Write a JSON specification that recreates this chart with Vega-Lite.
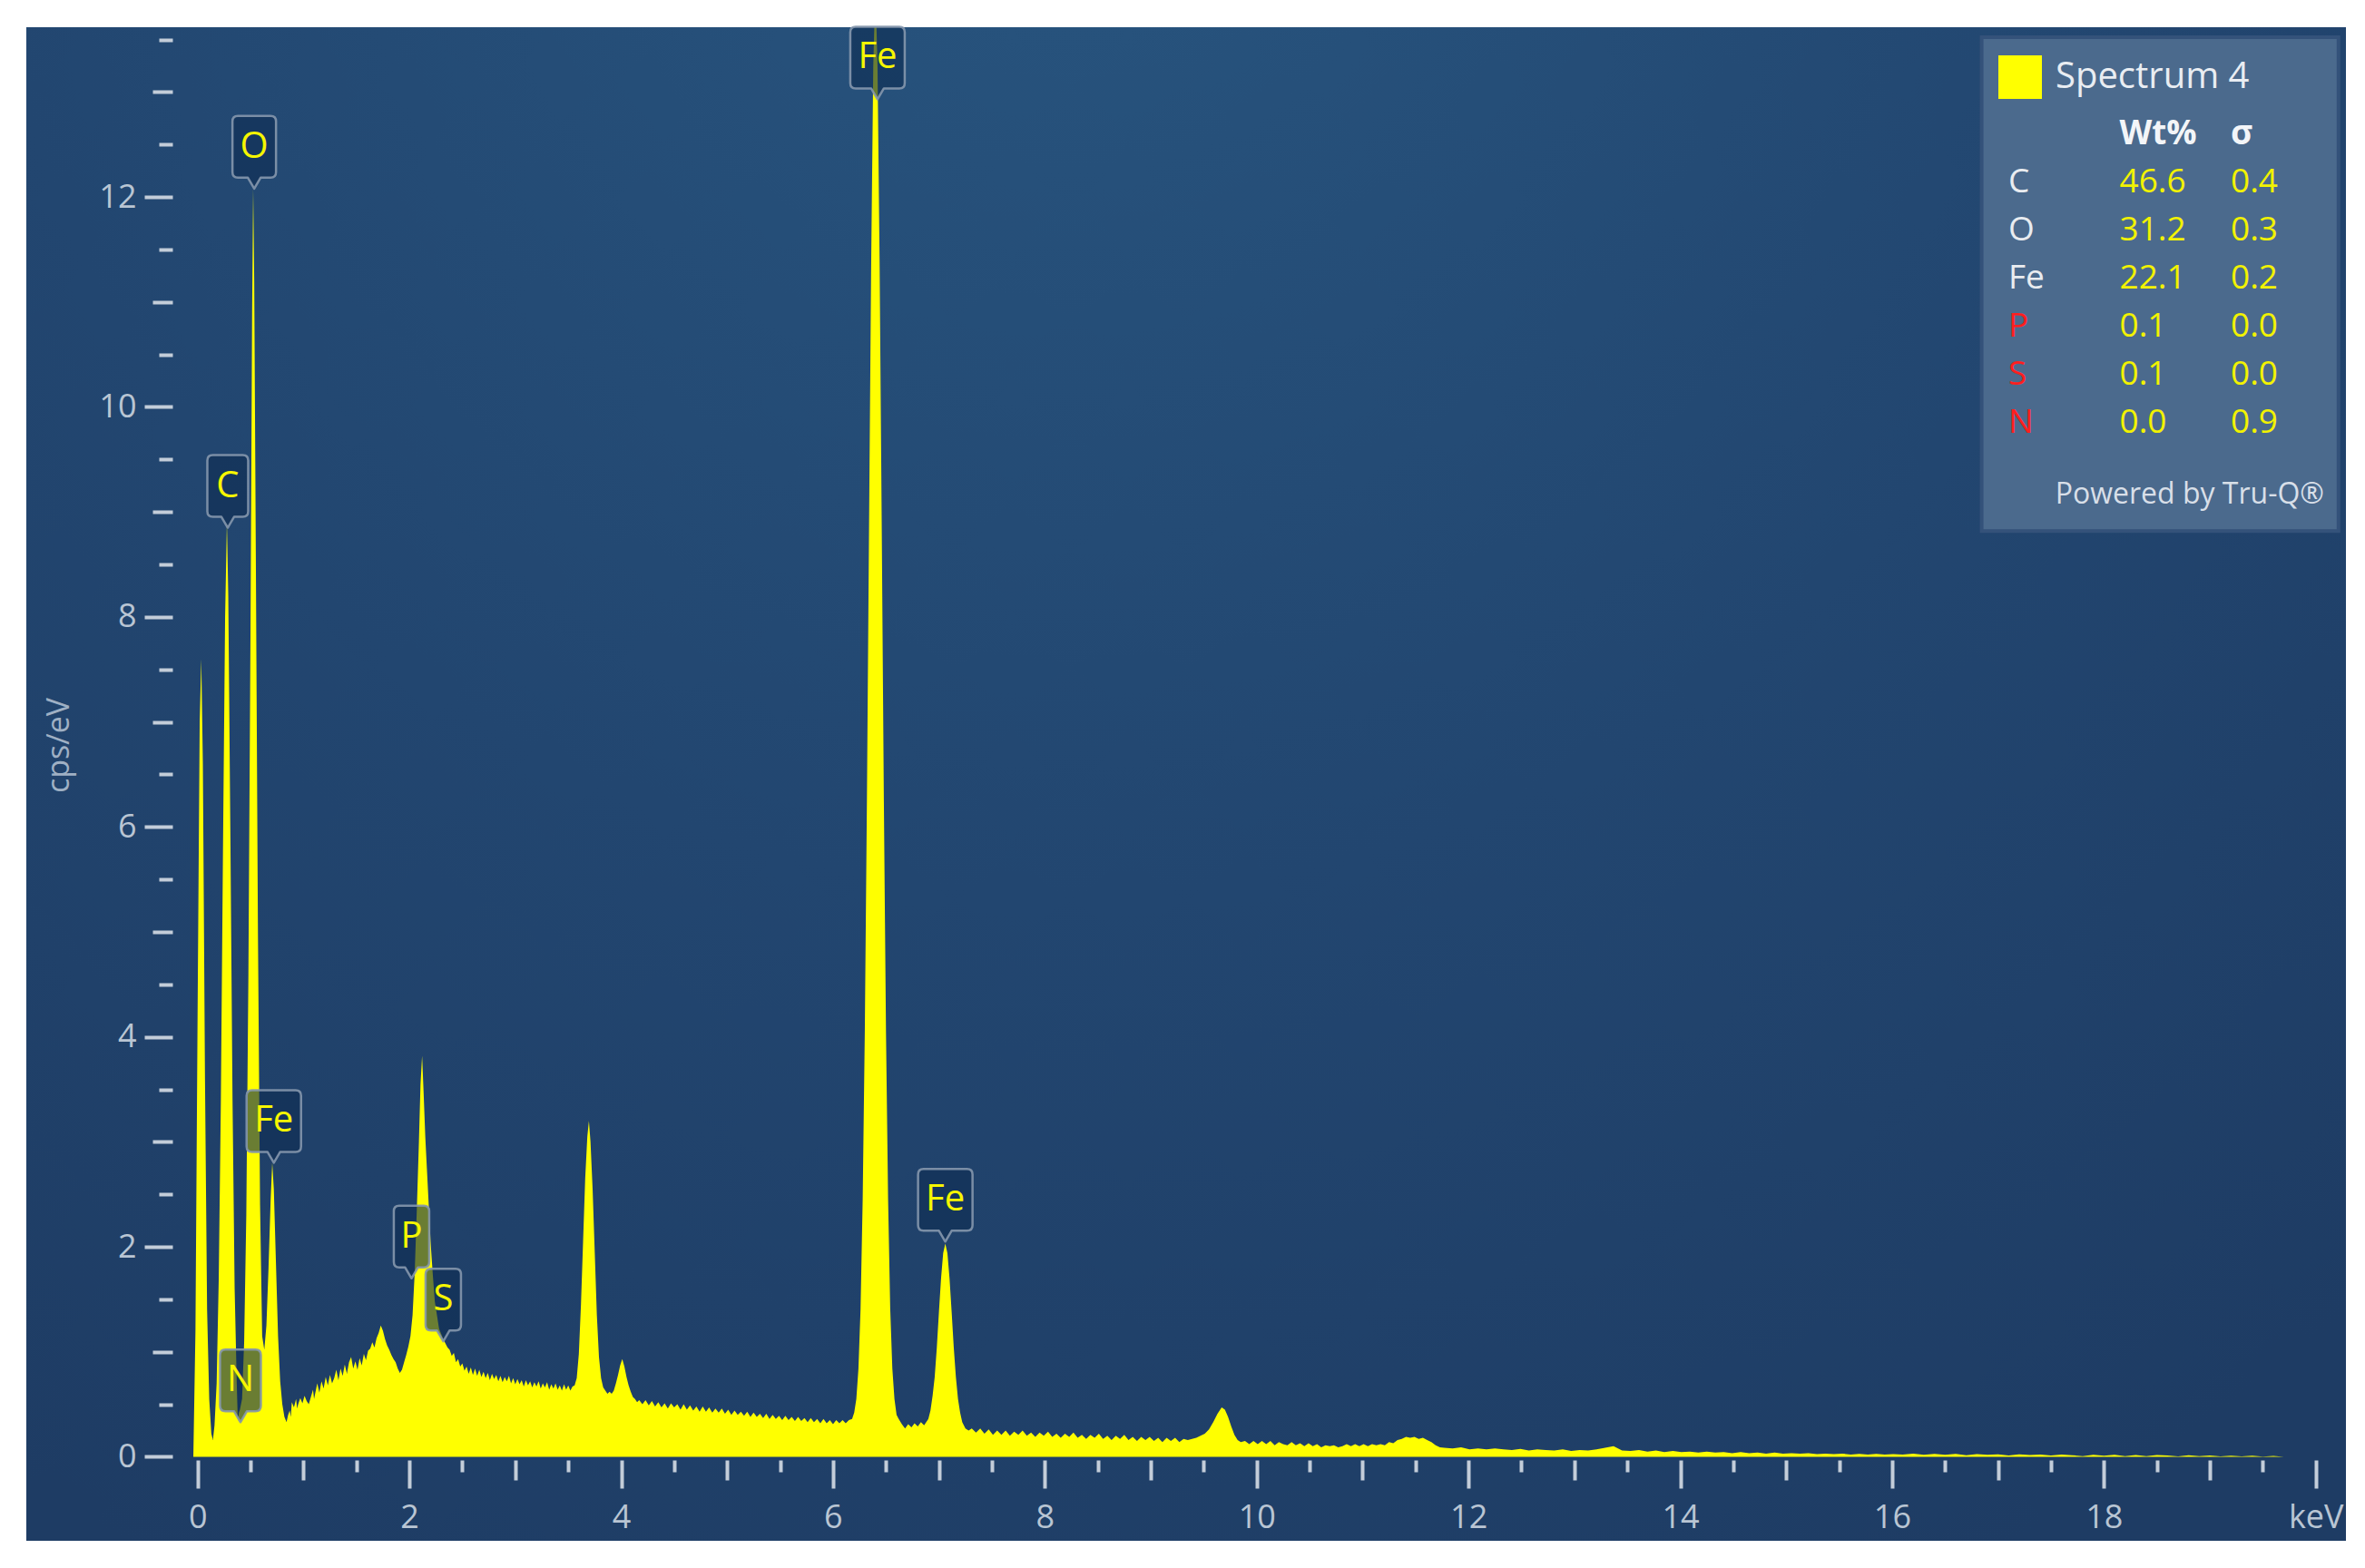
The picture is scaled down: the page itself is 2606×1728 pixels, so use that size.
{
  "$schema": "https://vega.github.io/schema/vega-lite/v6.json",
  "width": 2556,
  "height": 1668,
  "padding": {"left": 29, "top": 30, "right": 21, "bottom": 30},
  "autosize": {"type": "none"},
  "background": "white",
  "config": {
    "view": {
      "stroke": null,
      "fill": {
        "gradient": "radial",
        "x1": 0.45, "y1": 0.08, "r1": 0,
        "x2": 0.45, "y2": 0.08, "r2": 0.85,
        "stops": [
          {"offset": 0, "color": "#28557f"},
          {"offset": 0.55, "color": "#224670"},
          {"offset": 1, "color": "#1e3c64"}
        ]
      }
    },
    "font": "Open Sans"
  },
  "datasets": {
    "spectrum": [
      {"keV": -0.04, "cps": 0}, {"keV": -0.02, "cps": 1.2}, {"keV": 0.0, "cps": 4.2}, {"keV": 0.02, "cps": 7.0}, {"keV": 0.035, "cps": 7.6}, {"keV": 0.05, "cps": 6.6}, {"keV": 0.07, "cps": 3.6}, {"keV": 0.09, "cps": 1.4}, {"keV": 0.11, "cps": 0.55}, {"keV": 0.13, "cps": 0.22}, {"keV": 0.145, "cps": 0.16},
      {"keV": 0.16, "cps": 0.3}, {"keV": 0.18, "cps": 0.7}, {"keV": 0.2, "cps": 1.7}, {"keV": 0.22, "cps": 3.4}, {"keV": 0.24, "cps": 5.8}, {"keV": 0.26, "cps": 8.0}, {"keV": 0.277, "cps": 8.9}, {"keV": 0.29, "cps": 8.2}, {"keV": 0.31, "cps": 5.9}, {"keV": 0.33, "cps": 3.4}, {"keV": 0.35, "cps": 1.6}, {"keV": 0.37, "cps": 0.7}, {"keV": 0.38, "cps": 0.34}, {"keV": 0.39, "cps": 0.42}, {"keV": 0.4, "cps": 0.45}, {"keV": 0.42, "cps": 0.55},
      {"keV": 0.44, "cps": 1.1}, {"keV": 0.46, "cps": 2.3}, {"keV": 0.48, "cps": 4.6}, {"keV": 0.5, "cps": 7.9}, {"keV": 0.515, "cps": 10.9}, {"keV": 0.525, "cps": 12.08}, {"keV": 0.535, "cps": 11.2}, {"keV": 0.55, "cps": 8.6}, {"keV": 0.57, "cps": 5.0}, {"keV": 0.59, "cps": 2.4}, {"keV": 0.61, "cps": 1.15}, {"keV": 0.63, "cps": 1.02},
      {"keV": 0.65, "cps": 1.25}, {"keV": 0.67, "cps": 1.8}, {"keV": 0.69, "cps": 2.45}, {"keV": 0.705, "cps": 2.8}, {"keV": 0.72, "cps": 2.55}, {"keV": 0.74, "cps": 1.85}, {"keV": 0.76, "cps": 1.15}, {"keV": 0.78, "cps": 0.72}, {"keV": 0.8, "cps": 0.5}, {"keV": 0.82, "cps": 0.38}, {"keV": 0.84, "cps": 0.33}, {"keV": 0.855, "cps": 0.4},
      {"keV": 0.87, "cps": 0.44}, {"keV": 0.88, "cps": 0.38}, {"keV": 0.89, "cps": 0.52}, {"keV": 0.91, "cps": 0.47}, {"keV": 0.93, "cps": 0.55}, {"keV": 0.94, "cps": 0.46}, {"keV": 0.95, "cps": 0.5}, {"keV": 0.97, "cps": 0.56}, {"keV": 0.99, "cps": 0.51}, {"keV": 1.01, "cps": 0.58}, {"keV": 1.03, "cps": 0.53}, {"keV": 1.05, "cps": 0.5}, {"keV": 1.07, "cps": 0.57}, {"keV": 1.09, "cps": 0.64}, {"keV": 1.1, "cps": 0.55}, {"keV": 1.11, "cps": 0.6}, {"keV": 1.13, "cps": 0.7}, {"keV": 1.15, "cps": 0.61}, {"keV": 1.17, "cps": 0.72}, {"keV": 1.19, "cps": 0.65}, {"keV": 1.21, "cps": 0.76}, {"keV": 1.23, "cps": 0.68}, {"keV": 1.25, "cps": 0.78}, {"keV": 1.27, "cps": 0.7}, {"keV": 1.29, "cps": 0.75}, {"keV": 1.31, "cps": 0.83}, {"keV": 1.33, "cps": 0.73}, {"keV": 1.35, "cps": 0.84}, {"keV": 1.37, "cps": 0.77}, {"keV": 1.39, "cps": 0.88}, {"keV": 1.41, "cps": 0.79}, {"keV": 1.43, "cps": 0.9}, {"keV": 1.45, "cps": 0.95}, {"keV": 1.47, "cps": 0.84}, {"keV": 1.49, "cps": 0.91}, {"keV": 1.51, "cps": 0.83}, {"keV": 1.53, "cps": 0.94}, {"keV": 1.55, "cps": 0.87}, {"keV": 1.57, "cps": 0.98}, {"keV": 1.59, "cps": 0.92}, {"keV": 1.61, "cps": 1.01}, {"keV": 1.63, "cps": 1.03}, {"keV": 1.65, "cps": 1.09}, {"keV": 1.67, "cps": 1.04}, {"keV": 1.69, "cps": 1.13}, {"keV": 1.71, "cps": 1.18}, {"keV": 1.73, "cps": 1.25}, {"keV": 1.75, "cps": 1.2}, {"keV": 1.77, "cps": 1.12}, {"keV": 1.79, "cps": 1.06}, {"keV": 1.81, "cps": 1.02}, {"keV": 1.83, "cps": 0.97}, {"keV": 1.85, "cps": 0.93}, {"keV": 1.87, "cps": 0.9}, {"keV": 1.89, "cps": 0.84}, {"keV": 1.91, "cps": 0.8}, {"keV": 1.93, "cps": 0.83}, {"keV": 1.95, "cps": 0.9}, {"keV": 1.97, "cps": 0.97}, {"keV": 1.99, "cps": 1.05}, {"keV": 2.01, "cps": 1.15}, {"keV": 2.03, "cps": 1.35},
      {"keV": 2.05, "cps": 1.75}, {"keV": 2.07, "cps": 2.35}, {"keV": 2.09, "cps": 3.0}, {"keV": 2.105, "cps": 3.55}, {"keV": 2.12, "cps": 3.82}, {"keV": 2.135, "cps": 3.45}, {"keV": 2.15, "cps": 3.05}, {"keV": 2.165, "cps": 2.75}, {"keV": 2.18, "cps": 2.45}, {"keV": 2.2, "cps": 2.05}, {"keV": 2.22, "cps": 1.75}, {"keV": 2.24, "cps": 1.48}, {"keV": 2.26, "cps": 1.35}, {"keV": 2.28, "cps": 1.22}, {"keV": 2.3, "cps": 1.17}, {"keV": 2.32, "cps": 1.12}, {"keV": 2.34, "cps": 1.08}, {"keV": 2.36, "cps": 1.04}, {"keV": 2.38, "cps": 1.02}, {"keV": 2.4, "cps": 0.96}, {"keV": 2.42, "cps": 0.99}, {"keV": 2.44, "cps": 0.9}, {"keV": 2.46, "cps": 0.93}, {"keV": 2.48, "cps": 0.86}, {"keV": 2.5, "cps": 0.89}, {"keV": 2.52, "cps": 0.82}, {"keV": 2.54, "cps": 0.86}, {"keV": 2.56, "cps": 0.79}, {"keV": 2.58, "cps": 0.85}, {"keV": 2.6, "cps": 0.78}, {"keV": 2.62, "cps": 0.84}, {"keV": 2.64, "cps": 0.77}, {"keV": 2.66, "cps": 0.83}, {"keV": 2.68, "cps": 0.76}, {"keV": 2.7, "cps": 0.81}, {"keV": 2.72, "cps": 0.75}, {"keV": 2.74, "cps": 0.8}, {"keV": 2.76, "cps": 0.73}, {"keV": 2.78, "cps": 0.79}, {"keV": 2.8, "cps": 0.74}, {"keV": 2.82, "cps": 0.78}, {"keV": 2.84, "cps": 0.72}, {"keV": 2.86, "cps": 0.77}, {"keV": 2.88, "cps": 0.71}, {"keV": 2.9, "cps": 0.76}, {"keV": 2.92, "cps": 0.72}, {"keV": 2.94, "cps": 0.77}, {"keV": 2.96, "cps": 0.7}, {"keV": 2.98, "cps": 0.75}, {"keV": 3.0, "cps": 0.69}, {"keV": 3.02, "cps": 0.74}, {"keV": 3.04, "cps": 0.69}, {"keV": 3.06, "cps": 0.73}, {"keV": 3.08, "cps": 0.67}, {"keV": 3.1, "cps": 0.73}, {"keV": 3.12, "cps": 0.68}, {"keV": 3.14, "cps": 0.72}, {"keV": 3.16, "cps": 0.66}, {"keV": 3.18, "cps": 0.71}, {"keV": 3.2, "cps": 0.67}, {"keV": 3.22, "cps": 0.72}, {"keV": 3.24, "cps": 0.65}, {"keV": 3.26, "cps": 0.7}, {"keV": 3.28, "cps": 0.66}, {"keV": 3.3, "cps": 0.71}, {"keV": 3.32, "cps": 0.64}, {"keV": 3.34, "cps": 0.69}, {"keV": 3.36, "cps": 0.65}, {"keV": 3.38, "cps": 0.7}, {"keV": 3.4, "cps": 0.64}, {"keV": 3.42, "cps": 0.68}, {"keV": 3.44, "cps": 0.63}, {"keV": 3.46, "cps": 0.69}, {"keV": 3.48, "cps": 0.64}, {"keV": 3.5, "cps": 0.68}, {"keV": 3.52, "cps": 0.63}, {"keV": 3.54, "cps": 0.67}, {"keV": 3.56, "cps": 0.68},
      {"keV": 3.58, "cps": 0.75}, {"keV": 3.6, "cps": 0.98}, {"keV": 3.62, "cps": 1.45}, {"keV": 3.64, "cps": 2.05}, {"keV": 3.66, "cps": 2.65}, {"keV": 3.68, "cps": 3.05}, {"keV": 3.695, "cps": 3.2}, {"keV": 3.71, "cps": 3.0}, {"keV": 3.73, "cps": 2.55}, {"keV": 3.75, "cps": 1.95}, {"keV": 3.77, "cps": 1.35}, {"keV": 3.79, "cps": 0.95}, {"keV": 3.81, "cps": 0.75}, {"keV": 3.83, "cps": 0.66}, {"keV": 3.85, "cps": 0.63}, {"keV": 3.87, "cps": 0.6}, {"keV": 3.89, "cps": 0.62}, {"keV": 3.91, "cps": 0.6}, {"keV": 3.93, "cps": 0.63}, {"keV": 3.95, "cps": 0.7}, {"keV": 3.97, "cps": 0.78}, {"keV": 3.99, "cps": 0.87}, {"keV": 4.01, "cps": 0.93}, {"keV": 4.03, "cps": 0.86}, {"keV": 4.05, "cps": 0.76}, {"keV": 4.07, "cps": 0.68}, {"keV": 4.09, "cps": 0.62}, {"keV": 4.11, "cps": 0.57}, {"keV": 4.13, "cps": 0.55}, {"keV": 4.15, "cps": 0.52}, {"keV": 4.17, "cps": 0.54},
      {"keV": 4.2, "cps": 0.5}, {"keV": 4.23, "cps": 0.54}, {"keV": 4.26, "cps": 0.49}, {"keV": 4.29, "cps": 0.53}, {"keV": 4.32, "cps": 0.48}, {"keV": 4.35, "cps": 0.52}, {"keV": 4.38, "cps": 0.47}, {"keV": 4.41, "cps": 0.51}, {"keV": 4.44, "cps": 0.46}, {"keV": 4.47, "cps": 0.51}, {"keV": 4.5, "cps": 0.47}, {"keV": 4.53, "cps": 0.5}, {"keV": 4.56, "cps": 0.45}, {"keV": 4.59, "cps": 0.5}, {"keV": 4.62, "cps": 0.45}, {"keV": 4.65, "cps": 0.49}, {"keV": 4.68, "cps": 0.44}, {"keV": 4.71, "cps": 0.48}, {"keV": 4.74, "cps": 0.43}, {"keV": 4.77, "cps": 0.48}, {"keV": 4.8, "cps": 0.43}, {"keV": 4.83, "cps": 0.47}, {"keV": 4.86, "cps": 0.42}, {"keV": 4.89, "cps": 0.46}, {"keV": 4.92, "cps": 0.42}, {"keV": 4.95, "cps": 0.46}, {"keV": 4.98, "cps": 0.41}, {"keV": 5.01, "cps": 0.45}, {"keV": 5.04, "cps": 0.4}, {"keV": 5.07, "cps": 0.44}, {"keV": 5.1, "cps": 0.4}, {"keV": 5.13, "cps": 0.43}, {"keV": 5.16, "cps": 0.39}, {"keV": 5.19, "cps": 0.43}, {"keV": 5.22, "cps": 0.38}, {"keV": 5.25, "cps": 0.42}, {"keV": 5.28, "cps": 0.38}, {"keV": 5.31, "cps": 0.41}, {"keV": 5.34, "cps": 0.37}, {"keV": 5.37, "cps": 0.41}, {"keV": 5.4, "cps": 0.36}, {"keV": 5.43, "cps": 0.4}, {"keV": 5.46, "cps": 0.36}, {"keV": 5.49, "cps": 0.39}, {"keV": 5.52, "cps": 0.35}, {"keV": 5.55, "cps": 0.39}, {"keV": 5.58, "cps": 0.35}, {"keV": 5.61, "cps": 0.38}, {"keV": 5.64, "cps": 0.34}, {"keV": 5.67, "cps": 0.38}, {"keV": 5.7, "cps": 0.34}, {"keV": 5.73, "cps": 0.37}, {"keV": 5.76, "cps": 0.33}, {"keV": 5.79, "cps": 0.37}, {"keV": 5.82, "cps": 0.33}, {"keV": 5.85, "cps": 0.36}, {"keV": 5.88, "cps": 0.32}, {"keV": 5.91, "cps": 0.36}, {"keV": 5.94, "cps": 0.32}, {"keV": 5.97, "cps": 0.35}, {"keV": 6.0, "cps": 0.31}, {"keV": 6.03, "cps": 0.35}, {"keV": 6.06, "cps": 0.32}, {"keV": 6.09, "cps": 0.35}, {"keV": 6.12, "cps": 0.32}, {"keV": 6.15, "cps": 0.35}, {"keV": 6.18, "cps": 0.36}, {"keV": 6.2, "cps": 0.42},
      {"keV": 6.22, "cps": 0.55}, {"keV": 6.24, "cps": 0.84}, {"keV": 6.26, "cps": 1.41}, {"keV": 6.28, "cps": 2.45}, {"keV": 6.3, "cps": 4.05}, {"keV": 6.32, "cps": 6.25}, {"keV": 6.34, "cps": 8.85}, {"keV": 6.36, "cps": 11.35}, {"keV": 6.38, "cps": 13.25}, {"keV": 6.4, "cps": 14.0}, {"keV": 6.42, "cps": 13.25}, {"keV": 6.44, "cps": 11.35}, {"keV": 6.46, "cps": 8.85}, {"keV": 6.48, "cps": 6.25}, {"keV": 6.5, "cps": 4.05}, {"keV": 6.52, "cps": 2.45}, {"keV": 6.54, "cps": 1.41}, {"keV": 6.56, "cps": 0.84}, {"keV": 6.58, "cps": 0.55}, {"keV": 6.6, "cps": 0.4}, {"keV": 6.62, "cps": 0.36}, {"keV": 6.65, "cps": 0.31}, {"keV": 6.68, "cps": 0.27}, {"keV": 6.71, "cps": 0.31}, {"keV": 6.74, "cps": 0.28}, {"keV": 6.77, "cps": 0.32}, {"keV": 6.8, "cps": 0.29}, {"keV": 6.83, "cps": 0.33}, {"keV": 6.86, "cps": 0.3}, {"keV": 6.88, "cps": 0.33},
      {"keV": 6.9, "cps": 0.36}, {"keV": 6.92, "cps": 0.44}, {"keV": 6.94, "cps": 0.58}, {"keV": 6.96, "cps": 0.76}, {"keV": 6.98, "cps": 1.04}, {"keV": 7.0, "cps": 1.38}, {"keV": 7.02, "cps": 1.7}, {"keV": 7.04, "cps": 1.94}, {"keV": 7.06, "cps": 2.03}, {"keV": 7.08, "cps": 1.94}, {"keV": 7.1, "cps": 1.7}, {"keV": 7.12, "cps": 1.38}, {"keV": 7.14, "cps": 1.04}, {"keV": 7.16, "cps": 0.76}, {"keV": 7.18, "cps": 0.55}, {"keV": 7.2, "cps": 0.42}, {"keV": 7.22, "cps": 0.33}, {"keV": 7.25, "cps": 0.27}, {"keV": 7.28, "cps": 0.25},
      {"keV": 7.31, "cps": 0.27}, {"keV": 7.35, "cps": 0.23}, {"keV": 7.39, "cps": 0.27}, {"keV": 7.43, "cps": 0.22}, {"keV": 7.47, "cps": 0.26}, {"keV": 7.51, "cps": 0.21}, {"keV": 7.55, "cps": 0.25}, {"keV": 7.59, "cps": 0.21}, {"keV": 7.63, "cps": 0.25}, {"keV": 7.67, "cps": 0.2}, {"keV": 7.71, "cps": 0.24}, {"keV": 7.75, "cps": 0.21}, {"keV": 7.79, "cps": 0.25}, {"keV": 7.83, "cps": 0.2}, {"keV": 7.87, "cps": 0.23}, {"keV": 7.91, "cps": 0.19}, {"keV": 7.95, "cps": 0.23}, {"keV": 7.99, "cps": 0.2}, {"keV": 8.03, "cps": 0.24}, {"keV": 8.07, "cps": 0.19}, {"keV": 8.11, "cps": 0.22}, {"keV": 8.15, "cps": 0.18}, {"keV": 8.19, "cps": 0.22}, {"keV": 8.23, "cps": 0.19}, {"keV": 8.27, "cps": 0.23}, {"keV": 8.31, "cps": 0.18}, {"keV": 8.35, "cps": 0.21}, {"keV": 8.39, "cps": 0.17}, {"keV": 8.43, "cps": 0.21}, {"keV": 8.47, "cps": 0.18}, {"keV": 8.51, "cps": 0.22}, {"keV": 8.55, "cps": 0.17}, {"keV": 8.59, "cps": 0.2}, {"keV": 8.63, "cps": 0.16}, {"keV": 8.67, "cps": 0.2}, {"keV": 8.71, "cps": 0.17}, {"keV": 8.75, "cps": 0.21}, {"keV": 8.79, "cps": 0.16}, {"keV": 8.83, "cps": 0.19}, {"keV": 8.87, "cps": 0.15}, {"keV": 8.91, "cps": 0.19}, {"keV": 8.95, "cps": 0.16}, {"keV": 8.99, "cps": 0.19}, {"keV": 9.03, "cps": 0.15}, {"keV": 9.07, "cps": 0.18}, {"keV": 9.11, "cps": 0.14}, {"keV": 9.15, "cps": 0.18}, {"keV": 9.19, "cps": 0.15}, {"keV": 9.23, "cps": 0.18}, {"keV": 9.27, "cps": 0.14}, {"keV": 9.31, "cps": 0.17}, {"keV": 9.35, "cps": 0.16}, {"keV": 9.39, "cps": 0.17}, {"keV": 9.43, "cps": 0.18}, {"keV": 9.47, "cps": 0.2}, {"keV": 9.51, "cps": 0.22}, {"keV": 9.55, "cps": 0.26}, {"keV": 9.59, "cps": 0.33}, {"keV": 9.63, "cps": 0.41}, {"keV": 9.67, "cps": 0.47}, {"keV": 9.7, "cps": 0.45}, {"keV": 9.73, "cps": 0.38}, {"keV": 9.76, "cps": 0.29}, {"keV": 9.79, "cps": 0.21}, {"keV": 9.82, "cps": 0.16}, {"keV": 9.85, "cps": 0.14},
      {"keV": 9.89, "cps": 0.15}, {"keV": 9.93, "cps": 0.12}, {"keV": 9.97, "cps": 0.15}, {"keV": 10.01, "cps": 0.12}, {"keV": 10.05, "cps": 0.15}, {"keV": 10.09, "cps": 0.12}, {"keV": 10.13, "cps": 0.15}, {"keV": 10.17, "cps": 0.11}, {"keV": 10.21, "cps": 0.14}, {"keV": 10.25, "cps": 0.12}, {"keV": 10.29, "cps": 0.11}, {"keV": 10.33, "cps": 0.14}, {"keV": 10.37, "cps": 0.11}, {"keV": 10.41, "cps": 0.13}, {"keV": 10.45, "cps": 0.1}, {"keV": 10.49, "cps": 0.13}, {"keV": 10.53, "cps": 0.1}, {"keV": 10.57, "cps": 0.12}, {"keV": 10.61, "cps": 0.09}, {"keV": 10.65, "cps": 0.11}, {"keV": 10.69, "cps": 0.1}, {"keV": 10.73, "cps": 0.11}, {"keV": 10.77, "cps": 0.09}, {"keV": 10.81, "cps": 0.1}, {"keV": 10.85, "cps": 0.12}, {"keV": 10.89, "cps": 0.1}, {"keV": 10.93, "cps": 0.12}, {"keV": 10.97, "cps": 0.1}, {"keV": 11.01, "cps": 0.12}, {"keV": 11.05, "cps": 0.1}, {"keV": 11.09, "cps": 0.12}, {"keV": 11.13, "cps": 0.11}, {"keV": 11.17, "cps": 0.12}, {"keV": 11.21, "cps": 0.11}, {"keV": 11.25, "cps": 0.14}, {"keV": 11.29, "cps": 0.13}, {"keV": 11.33, "cps": 0.16}, {"keV": 11.37, "cps": 0.17}, {"keV": 11.41, "cps": 0.19}, {"keV": 11.45, "cps": 0.18}, {"keV": 11.49, "cps": 0.19}, {"keV": 11.53, "cps": 0.17}, {"keV": 11.57, "cps": 0.18}, {"keV": 11.61, "cps": 0.16}, {"keV": 11.65, "cps": 0.14}, {"keV": 11.69, "cps": 0.11}, {"keV": 11.73, "cps": 0.09}, {"keV": 11.77, "cps": 0.085},
      {"keV": 11.85, "cps": 0.08}, {"keV": 11.93, "cps": 0.09}, {"keV": 12.01, "cps": 0.07}, {"keV": 12.09, "cps": 0.08}, {"keV": 12.17, "cps": 0.07}, {"keV": 12.25, "cps": 0.08}, {"keV": 12.33, "cps": 0.07}, {"keV": 12.41, "cps": 0.065}, {"keV": 12.49, "cps": 0.075}, {"keV": 12.57, "cps": 0.06}, {"keV": 12.65, "cps": 0.07}, {"keV": 12.73, "cps": 0.065}, {"keV": 12.81, "cps": 0.06}, {"keV": 12.89, "cps": 0.07}, {"keV": 12.97, "cps": 0.055}, {"keV": 13.05, "cps": 0.065}, {"keV": 13.13, "cps": 0.06}, {"keV": 13.21, "cps": 0.07}, {"keV": 13.29, "cps": 0.085}, {"keV": 13.37, "cps": 0.1}, {"keV": 13.45, "cps": 0.06}, {"keV": 13.53, "cps": 0.055}, {"keV": 13.61, "cps": 0.065}, {"keV": 13.69, "cps": 0.05}, {"keV": 13.77, "cps": 0.06}, {"keV": 13.85, "cps": 0.045}, {"keV": 13.93, "cps": 0.055}, {"keV": 14.01, "cps": 0.045}, {"keV": 14.09, "cps": 0.05}, {"keV": 14.17, "cps": 0.04}, {"keV": 14.25, "cps": 0.05}, {"keV": 14.33, "cps": 0.04}, {"keV": 14.41, "cps": 0.045}, {"keV": 14.49, "cps": 0.035}, {"keV": 14.57, "cps": 0.045}, {"keV": 14.65, "cps": 0.035}, {"keV": 14.73, "cps": 0.04}, {"keV": 14.81, "cps": 0.03}, {"keV": 14.89, "cps": 0.04}, {"keV": 14.97, "cps": 0.03}, {"keV": 15.05, "cps": 0.035}, {"keV": 15.13, "cps": 0.03}, {"keV": 15.21, "cps": 0.035}, {"keV": 15.29, "cps": 0.025}, {"keV": 15.37, "cps": 0.03}, {"keV": 15.45, "cps": 0.025}, {"keV": 15.53, "cps": 0.03}, {"keV": 15.61, "cps": 0.022}, {"keV": 15.69, "cps": 0.028}, {"keV": 15.77, "cps": 0.022}, {"keV": 15.85, "cps": 0.027}, {"keV": 15.93, "cps": 0.022}, {"keV": 16.01, "cps": 0.025},
      {"keV": 16.1, "cps": 0.022}, {"keV": 16.2, "cps": 0.03}, {"keV": 16.3, "cps": 0.018}, {"keV": 16.4, "cps": 0.028}, {"keV": 16.5, "cps": 0.02}, {"keV": 16.6, "cps": 0.027}, {"keV": 16.7, "cps": 0.015}, {"keV": 16.8, "cps": 0.026}, {"keV": 16.9, "cps": 0.018}, {"keV": 17.0, "cps": 0.024}, {"keV": 17.1, "cps": 0.012}, {"keV": 17.2, "cps": 0.023}, {"keV": 17.3, "cps": 0.016}, {"keV": 17.4, "cps": 0.022}, {"keV": 17.5, "cps": 0.012}, {"keV": 17.6, "cps": 0.021}, {"keV": 17.7, "cps": 0.015}, {"keV": 17.8, "cps": 0.006}, {"keV": 17.9, "cps": 0.02}, {"keV": 18.0, "cps": 0.01}, {"keV": 18.1, "cps": 0.019}, {"keV": 18.2, "cps": 0.006}, {"keV": 18.3, "cps": 0.017}, {"keV": 18.4, "cps": 0.005}, {"keV": 18.5, "cps": 0.016}, {"keV": 18.6, "cps": 0.012}, {"keV": 18.7, "cps": 0.004}, {"keV": 18.8, "cps": 0.015}, {"keV": 18.9, "cps": 0.006}, {"keV": 19.0, "cps": 0.013}, {"keV": 19.1, "cps": 0.003}, {"keV": 19.2, "cps": 0.011}, {"keV": 19.3, "cps": 0.003}, {"keV": 19.4, "cps": 0.01}, {"keV": 19.5, "cps": 0.002}, {"keV": 19.6, "cps": 0.008}, {"keV": 19.7, "cps": 0}
    ],
    "peaks": [
      {"el": "C", "keV": 0.285, "cps": 8.85},
      {"el": "N", "keV": 0.405, "cps": 0.33},
      {"el": "O", "keV": 0.535, "cps": 12.08},
      {"el": "Fe", "keV": 0.72, "cps": 2.8},
      {"el": "P", "keV": 2.02, "cps": 1.7},
      {"el": "S", "keV": 2.32, "cps": 1.1},
      {"el": "Fe", "keV": 6.42, "cps": 12.93},
      {"el": "Fe", "keV": 7.06, "cps": 2.05}
    ],
    "table": [
      {"row": 1, "col": 1, "text": "Wt%", "kind": "head"},
      {"row": 1, "col": 2, "text": "σ", "kind": "head"},
      {"row": 2, "col": 0, "text": "C", "kind": "element"},
      {"row": 2, "col": 1, "text": "46.6", "kind": "value"},
      {"row": 2, "col": 2, "text": "0.4", "kind": "value"},
      {"row": 3, "col": 0, "text": "O", "kind": "element"},
      {"row": 3, "col": 1, "text": "31.2", "kind": "value"},
      {"row": 3, "col": 2, "text": "0.3", "kind": "value"},
      {"row": 4, "col": 0, "text": "Fe", "kind": "element"},
      {"row": 4, "col": 1, "text": "22.1", "kind": "value"},
      {"row": 4, "col": 2, "text": "0.2", "kind": "value"},
      {"row": 5, "col": 0, "text": "P", "kind": "flagged"},
      {"row": 5, "col": 1, "text": "0.1", "kind": "value"},
      {"row": 5, "col": 2, "text": "0.0", "kind": "value"},
      {"row": 6, "col": 0, "text": "S", "kind": "flagged"},
      {"row": 6, "col": 1, "text": "0.1", "kind": "value"},
      {"row": 6, "col": 2, "text": "0.0", "kind": "value"},
      {"row": 7, "col": 0, "text": "N", "kind": "flagged"},
      {"row": 7, "col": 1, "text": "0.0", "kind": "value"},
      {"row": 7, "col": 2, "text": "0.9", "kind": "value"},
      {"row": 8.5, "col": 2, "text": "Powered by Tru-Q®", "kind": "footer"}
    ]
  },
  "layer": [
    {
      "layer": [
        {
          "data": {"name": "spectrum"},
          "mark": {"type": "area", "clip": true, "interpolate": "linear"},
          "encoding": {
            "x": {
              "field": "keV", "type": "quantitative",
              "scale": {"domain": [-1.617, 20.285], "nice": false, "zero": false},
              "axis": {
                "orient": "bottom", "offset": -89, "title": null, "domain": false, "grid": false,
                "values": [0, 2, 4, 6, 8, 10, 12, 14, 16, 18, 20],
                "labelExpr": "datum.value === 20 ? 'keV' : datum.label",
                "labelFlush": false, "labelOverlap": false, "labelBound": false,
                "tickColor": "#c3cdd9", "tickWidth": 4, "tickSize": 31,
                "labelColor": "#b9c5d3", "labelFont": "Open Sans", "labelFontSize": 36,
                "labelBaseline": "middle", "labelPadding": 32
              }
            },
            "y": {
              "field": "cps", "type": "quantitative",
              "scale": {"domain": [-0.8, 13.617], "nice": false, "zero": false},
              "axis": {
                "orient": "left", "offset": -161, "title": "cps/eV", "domain": false, "grid": false,
                "values": [0, 2, 4, 6, 8, 10, 12],
                "labelFlush": false, "labelOverlap": false, "labelBound": false,
                "tickColor": "#c3cdd9", "tickWidth": 4, "tickSize": 31,
                "labelColor": "#b9c5d3", "labelFont": "Open Sans", "labelFontSize": 36, "labelPadding": 9,
                "titleColor": "#9fb0c4", "titleFont": "Open Sans", "titleFontSize": 34, "titleFontWeight": "normal",
                "titleAngle": 270, "titleX": -125, "titleY": 791, "titleAlign": "center", "titleBaseline": "middle"
              }
            },
            "y2": {"datum": 0},
            "color": {
              "datum": "Spectrum 4",
              "scale": {"range": ["#ffff00"]},
              "legend": {
                "orient": "none", "legendX": 2173, "legendY": 31, "title": null, "padding": 0,
                "symbolType": "square", "symbolSize": 2304, "symbolStrokeWidth": 0, "symbolOpacity": 1,
                "labelFont": "Open Sans", "labelFontSize": 40, "labelColor": "#e9edf2", "labelOffset": 15, "labelLimit": 400
              }
            }
          }
        },
        {
          "data": {"name": "peaks"},
          "mark": {"type": "point", "filled": true, "size": 3600, "fill": "#0f2d52", "fillOpacity": 0.62, "stroke": "#8597ad", "strokeWidth": 2.5, "strokeOpacity": 0.9, "strokeJoin": "round"},
          "encoding": {
            "x": {
              "field": "keV", "type": "quantitative",
              "axis": {
                "orient": "bottom", "offset": -89, "title": null, "domain": false, "grid": false, "labels": false,
                "values": [1, 3, 5, 7, 9, 11, 13, 15, 17, 19],
                "tickColor": "#c3cdd9", "tickWidth": 4, "tickSize": 22
              }
            },
            "y": {
              "field": "cps", "type": "quantitative",
              "axis": {
                "orient": "left", "offset": -161, "title": null, "domain": false, "grid": false, "labels": false,
                "values": [1, 3, 5, 7, 9, 11, 13],
                "tickColor": "#c3cdd9", "tickWidth": 4, "tickSize": 22
              }
            },
            "shape": {
              "field": "el", "type": "nominal", "legend": null,
              "scale": {
                "domain": ["C", "N", "O", "P", "S", "Fe"],
                "range": [
                  "M-0.55,-2.667L0.55,-2.667Q0.75,-2.667 0.75,-2.467L0.75,-0.6Q0.75,-0.4 0.55,-0.4L0.233,-0.4L0,0L-0.233,-0.4L-0.55,-0.4Q-0.75,-0.4 -0.75,-0.6L-0.75,-2.467Q-0.75,-2.667 -0.55,-2.667Z",
                  "M-0.55,-2.667L0.55,-2.667Q0.75,-2.667 0.75,-2.467L0.75,-0.6Q0.75,-0.4 0.55,-0.4L0.233,-0.4L0,0L-0.233,-0.4L-0.55,-0.4Q-0.75,-0.4 -0.75,-0.6L-0.75,-2.467Q-0.75,-2.667 -0.55,-2.667Z",
                  "M-0.6,-2.667L0.6,-2.667Q0.8,-2.667 0.8,-2.467L0.8,-0.6Q0.8,-0.4 0.6,-0.4L0.233,-0.4L0,0L-0.233,-0.4L-0.6,-0.4Q-0.8,-0.4 -0.8,-0.6L-0.8,-2.467Q-0.8,-2.667 -0.6,-2.667Z",
                  "M-0.45,-2.667L0.45,-2.667Q0.65,-2.667 0.65,-2.467L0.65,-0.6Q0.65,-0.4 0.45,-0.4L0.233,-0.4L0,0L-0.233,-0.4L-0.45,-0.4Q-0.65,-0.4 -0.65,-0.6L-0.65,-2.467Q-0.65,-2.667 -0.45,-2.667Z",
                  "M-0.45,-2.667L0.45,-2.667Q0.65,-2.667 0.65,-2.467L0.65,-0.6Q0.65,-0.4 0.45,-0.4L0.233,-0.4L0,0L-0.233,-0.4L-0.45,-0.4Q-0.65,-0.4 -0.65,-0.6L-0.65,-2.467Q-0.65,-2.667 -0.45,-2.667Z",
                  "M-0.8,-2.667L0.8,-2.667Q1,-2.667 1,-2.467L1,-0.6Q1,-0.4 0.8,-0.4L0.233,-0.4L0,0L-0.233,-0.4L-0.8,-0.4Q-1,-0.4 -1,-0.6L-1,-2.467Q-1,-2.667 -0.8,-2.667Z"
                ]
              }
            }
          }
        },
        {
          "data": {"name": "peaks"},
          "mark": {"type": "text", "color": "#f6f600", "font": "Open Sans", "fontSize": 40, "baseline": "middle", "align": "center", "dy": -46},
          "encoding": {
            "x": {
              "field": "keV", "type": "quantitative",
              "axis": {
                "orient": "bottom", "offset": -89, "title": null, "domain": false, "grid": false, "labels": false,
                "values": [0.5, 1.5, 2.5, 3.5, 4.5, 5.5, 6.5, 7.5, 8.5, 9.5, 10.5, 11.5, 12.5, 13.5, 14.5, 15.5, 16.5, 17.5, 18.5, 19.5],
                "tickColor": "#c3cdd9", "tickWidth": 4, "tickSize": 13
              }
            },
            "y": {
              "field": "cps", "type": "quantitative",
              "axis": {
                "orient": "left", "offset": -161, "title": null, "domain": false, "grid": false, "labels": false,
                "values": [0.5, 1.5, 2.5, 3.5, 4.5, 5.5, 6.5, 7.5, 8.5, 9.5, 10.5, 11.5, 12.5, 13.5],
                "tickColor": "#c3cdd9", "tickWidth": 4, "tickSize": 15
              }
            },
            "text": {"field": "el"}
          }
        }
      ],
      "resolve": {"axis": {"x": "independent", "y": "independent"}}
    },
    {
      "layer": [
        {
          "data": {"values": [{"box": "results"}]},
          "mark": {"type": "rect", "fill": "#4b6a8d", "stroke": "#34527a", "strokeWidth": 4},
          "encoding": {
            "x": {"datum": -0.24, "type": "quantitative", "scale": {"domain": [-17.829, 3.037], "nice": false, "zero": false}, "axis": null},
            "x2": {"datum": 2.97},
            "y": {"datum": -1.02, "type": "quantitative", "scale": {"domain": [-1.2264, 30.2453], "nice": false, "zero": false, "reverse": true}, "axis": null},
            "y2": {"datum": 9.25}
          }
        },
        {
          "data": {"name": "table"},
          "transform": [{"filter": "datum.kind === 'head'"}],
          "mark": {"type": "text", "align": "left", "baseline": "middle", "font": "Open Sans", "fontSize": 37, "fontWeight": "bold", "color": "#f3f5f8"},
          "encoding": {
            "x": {"field": "col", "type": "quantitative", "scale": {"domain": [-17.829, 3.037], "nice": false, "zero": false}, "axis": null},
            "y": {"field": "row", "type": "quantitative", "scale": {"domain": [-1.2264, 30.2453], "nice": false, "zero": false, "reverse": true}, "axis": null},
            "text": {"field": "text"}
          }
        },
        {
          "data": {"name": "table"},
          "transform": [{"filter": "datum.kind === 'element' || datum.kind === 'value' || datum.kind === 'flagged'"}],
          "mark": {"type": "text", "align": "left", "baseline": "middle", "font": "Open Sans", "fontSize": 37},
          "encoding": {
            "x": {"field": "col", "type": "quantitative", "scale": {"domain": [-17.829, 3.037], "nice": false, "zero": false}, "axis": null},
            "y": {"field": "row", "type": "quantitative", "scale": {"domain": [-1.2264, 30.2453], "nice": false, "zero": false, "reverse": true}, "axis": null},
            "text": {"field": "text"},
            "color": {"field": "kind", "type": "nominal", "legend": null, "scale": {"domain": ["element", "value", "flagged"], "range": ["#e9ecf0", "#f2f200", "#ff1e1e"]}}
          }
        },
        {
          "data": {"name": "table"},
          "transform": [{"filter": "datum.kind === 'footer'"}],
          "mark": {"type": "text", "align": "right", "baseline": "middle", "font": "Open Sans", "fontSize": 32, "color": "#d8dfe8", "dx": 103},
          "encoding": {
            "x": {"field": "col", "type": "quantitative", "scale": {"domain": [-17.829, 3.037], "nice": false, "zero": false}, "axis": null},
            "y": {"field": "row", "type": "quantitative", "scale": {"domain": [-1.2264, 30.2453], "nice": false, "zero": false, "reverse": true}, "axis": null},
            "text": {"field": "text"}
          }
        }
      ]
    }
  ],
  "resolve": {"scale": {"x": "independent", "y": "independent", "color": "independent"}}
}
